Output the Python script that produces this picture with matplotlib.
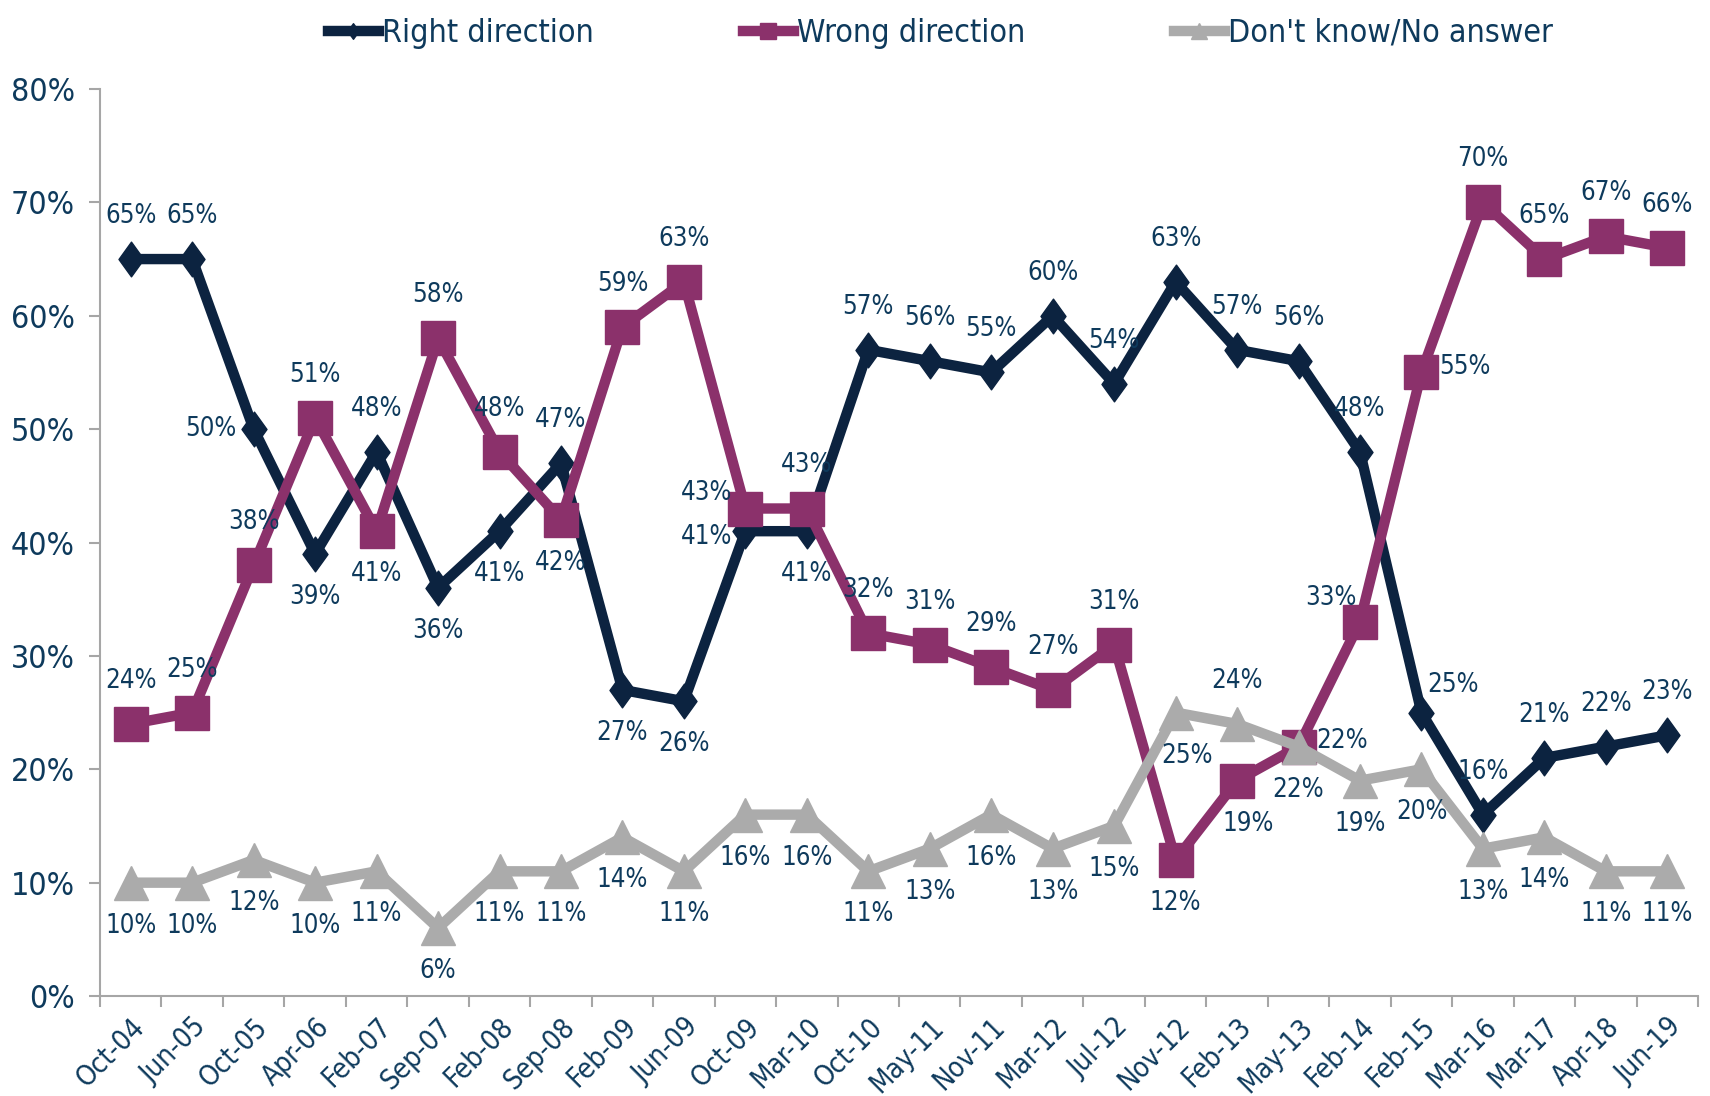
import matplotlib.pyplot as plt
from matplotlib.path import Path

months = ["Oct-04", "Jun-05", "Oct-05", "Apr-06", "Feb-07", "Sep-07", "Feb-08", "Sep-08",
          "Feb-09", "Jun-09", "Oct-09", "Mar-10", "Oct-10", "May-11", "Nov-11", "Mar-12",
          "Jul-12", "Nov-12", "Feb-13", "May-13", "Feb-14", "Feb-15", "Mar-16", "Mar-17",
          "Apr-18", "Jun-19"]
right = [65, 65, 50, 39, 48, 36, 41, 47, 27, 26, 41, 41, 57, 56, 55, 60, 54, 63, 57, 56,
         48, 25, 16, 21, 22, 23]
wrong = [24, 25, 38, 51, 41, 58, 48, 42, 59, 63, 43, 43, 32, 31, 29, 27, 31, 12, 19, 22,
         33, 55, 70, 65, 67, 66]
dont_know = [10, 10, 12, 10, 11, 6, 11, 11, 14, 11, 16, 16, 11, 13, 16, 13, 15, 25, 24, 22,
             19, 20, 13, 14, 11, 11]

# where each data label sits relative to its point
right_pos = ['a', 'a', 'l', 'b', 'a', 'b', 'b', 'a', 'b', 'b', 'ld', 'b', 'a', 'a', 'a', 'a',
             'a', 'a', 'a', 'a', 'a', 'ar', 'a', 'a', 'a', 'a']
wrong_pos = ['a', 'a', 'a', 'a', 'b', 'a', 'a', 'b', 'a', 'a', 'lu', 'a', 'a', 'a', 'a', 'a',
             'a', 'b', 'br', 'r', 'al', 'r', 'a', 'a', 'a', 'a']
dk_pos = ['b'] * 17 + ['br', 'a', 'b', 'b', 'b', 'b', 'b', 'b', 'b']

d = 31
offsets = {'a': (0, d), 'b': (0, -d), 'l': (-d, 0), 'r': (d, 4),
           'lu': (-28, 11), 'ld': (-28, -4), 'br': (8, -d),
           'ar': (23, 20), 'al': (-21, 17)}

plt.rcParams['font.family'] = ['Liberation Sans Narrow', 'DejaVu Sans']
plt.rcParams['font.stretch'] = 'condensed'
txt_col = '#0E3A5C'
navy = '#0C2340'
maroon = '#8B316B'
grey = '#ABABAB'
axis_col = '#A6A6A6'

tall_diamond = Path([(0, 1), (0.72, 0), (0, -1), (-0.72, 0), (0, 1)],
                    [Path.MOVETO, Path.LINETO, Path.LINETO, Path.LINETO, Path.CLOSEPOLY])

fig = plt.figure(figsize=(17.1, 10.96), dpi=100)
ax = fig.add_axes([0.0585, 0.0912, 0.9345, 0.8276])

x = list(range(len(months)))
series = [
    (right, right_pos, navy, tall_diamond, 25, "Right direction"),
    (wrong, wrong_pos, maroon, 's', 25, "Wrong direction"),
    (dont_know, dk_pos, grey, '^', 25, "Don't know/No answer"),
]

handles = []
for i, (vals, pos, col, mk, ms, name) in enumerate(series):
    h, = ax.plot(x, vals, color=col, lw=7.5, marker=mk, markersize=ms,
                 markerfacecolor=col, markeredgecolor=col, label=name, zorder=3 + i,
                 solid_joinstyle='miter')
    handles.append(h)
    for xi, v, p in zip(x, vals, pos):
        ax.annotate(f"{v}%", (xi, v), xytext=offsets[p], textcoords='offset points',
                    ha='center', va='center', fontsize=18.5, color=txt_col, zorder=10)

ax.set_ylim(0, 80)
ax.set_xlim(-0.5, len(months) - 0.5)
ax.set_yticks(range(0, 81, 10))
ax.set_yticklabels([f"{t}%" for t in range(0, 81, 10)], fontsize=23, color=txt_col)

ax.set_xticks([i - 0.5 for i in range(len(months) + 1)])
ax.set_xticklabels([])
ax.set_xticks(x, minor=True)
ax.set_xticklabels(months, minor=True, rotation=45, ha='right', rotation_mode='anchor',
                   fontsize=20, color=txt_col)
ax.tick_params(axis='x', which='minor', length=0, pad=12)
ax.tick_params(axis='both', which='major', length=8, width=1.5, color=axis_col)
ax.tick_params(axis='y', pad=10)

for s in ['top', 'right']:
    ax.spines[s].set_visible(False)
for s in ['left', 'bottom']:
    ax.spines[s].set_color(axis_col)
    ax.spines[s].set_linewidth(1.5)

leg = fig.legend(handles=handles, loc='upper center', bbox_to_anchor=(0.55, 1.01), ncol=3,
                 frameon=False, fontsize=23, markerscale=0.45, handlelength=1.6,
                 handletextpad=0.1, columnspacing=4.65)
for t in leg.get_texts():
    t.set_color(txt_col)

fig.savefig("out.png", dpi=100)
